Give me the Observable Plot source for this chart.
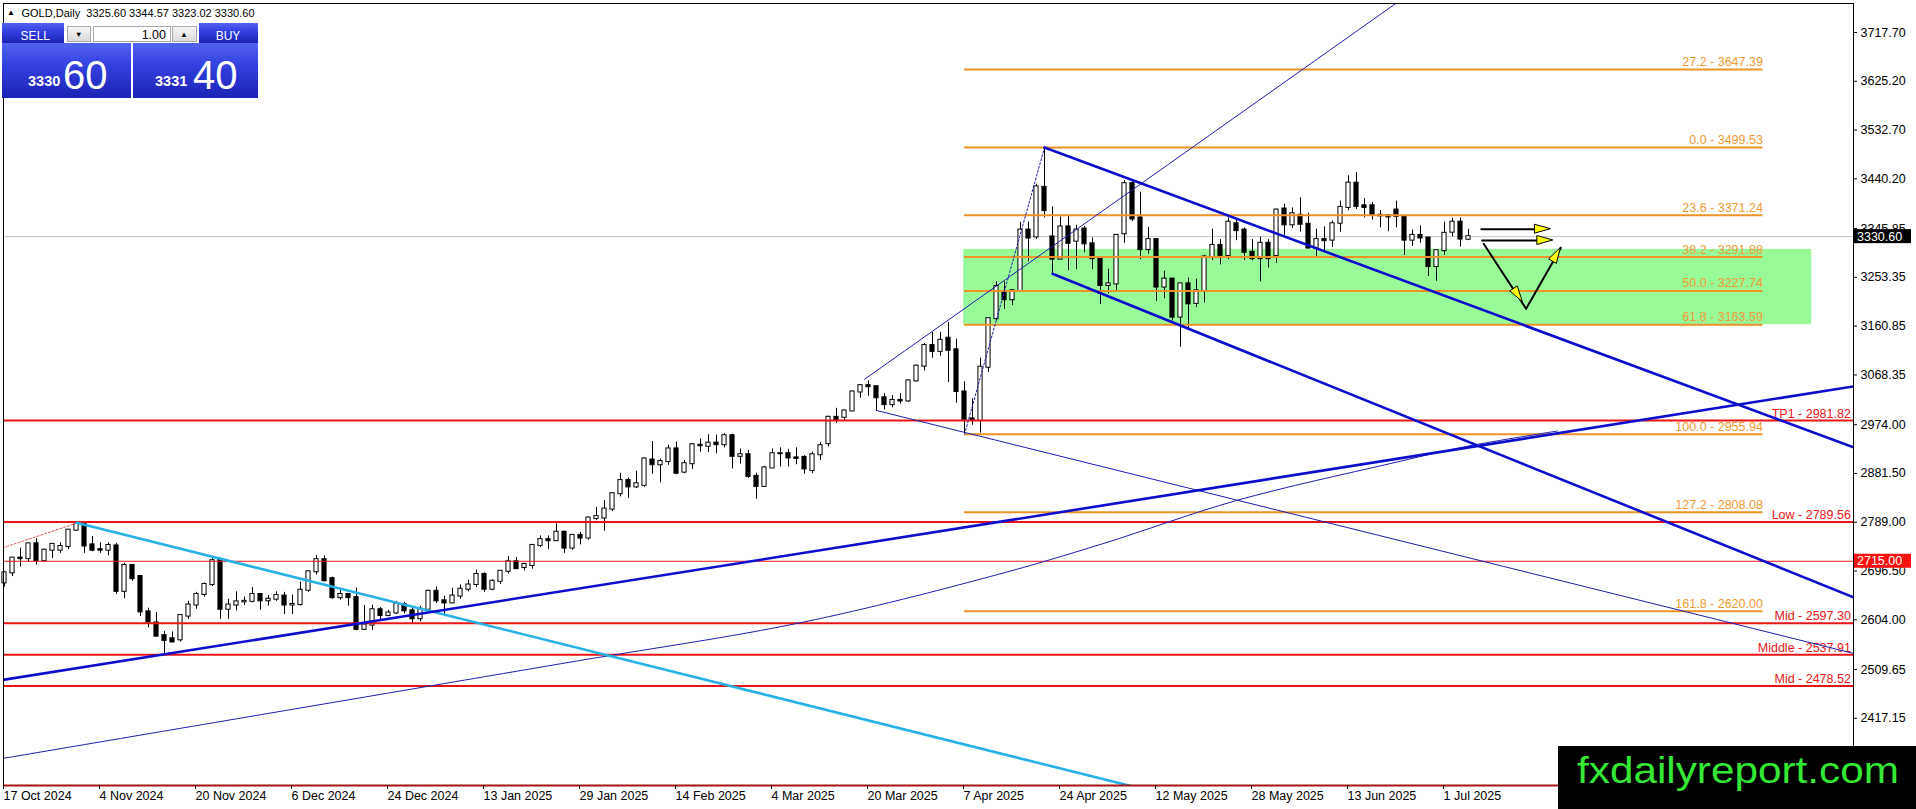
<!DOCTYPE html>
<html>
<head>
<meta charset="utf-8">
<title>GOLD, Daily</title>
<script src="https://cdn.jsdelivr.net/npm/d3@7"></script>
<script src="https://cdn.jsdelivr.net/npm/@observablehq/plot@0.6"></script>
<style>
  html, body { margin: 0; padding: 0; background: #fff; }
  #wrap { position: relative; width: 1916px; height: 809px; overflow: hidden; font-family: "Liberation Sans", Arial, sans-serif; }
  #wrap svg { display: block; }
  .ov { position: absolute; white-space: nowrap; line-height: 1; }
  .box { position: absolute; box-sizing: border-box; }
  .blue { background: linear-gradient(to bottom, #5263f2 0%, #3341e0 40%, #1c22b4 100%); }
  .btn { background: linear-gradient(#f6f6f6, #dadada); border: 1px solid #a8a8a8; }
</style>
</head>
<body>
<div id="wrap"></div>
<script>
// ---------------- data ----------------
const symbolTitle = "GOLD,Daily";
const lastOHLC = [3325.60, 3344.57, 3323.02, 3330.60];
const lots = "1.00";
const sellBig = "3330", sellSmall = "60", buyBig = "3331", buySmall = "40";

// x-axis tick positions (bar index) and labels
const tickBars = [0, 12, 24, 36, 48, 60, 72, 84, 96, 108, 120, 132, 144, 156, 168, 180];
const tickLabels = ["17 Oct 2024", "4 Nov 2024", "20 Nov 2024", "6 Dec 2024", "24 Dec 2024", "13 Jan 2025",
  "29 Jan 2025", "14 Feb 2025", "4 Mar 2025", "20 Mar 2025", "7 Apr 2025", "24 Apr 2025",
  "12 May 2025", "28 May 2025", "13 Jun 2025", "1 Jul 2025"];
// price-axis ticks
const yTicks = [3717.70, 3625.20, 3532.70, 3440.20, 3345.85, 3253.35, 3160.85, 3068.35, 2974.00,
  2881.50, 2789.00, 2696.50, 2604.00, 2509.65, 2417.15];

// daily candles, 17 Oct 2024 .. 4 Jul 2025 (bar index = position)
const open = [
2674,2693,2721,2720,2748,2716,2736,2736,2743,2774,
2788,2746,2737,2736,2744,2658,2707,2686,2619,2598,
2574,2568,2566,2611,2632,2652,2671,2718,2624,2632,
2638,2639,2652,2640,2643,2649,2632,2633,2660,2695,
2718,2682,2646,2652,2646,2586,2594,2623,2612,2617,
2633,2621,2606,2624,2658,2640,2636,2649,2662,2671,
2690,2662,2677,2696,2714,2703,2707,2745,2756,2754,
2770,2740,2764,2759,2796,2797,2814,2843,2868,2856,
2859,2907,2898,2904,2928,2884,2900,2935,2933,2939,
2936,2953,2914,2917,2876,2857,2892,2919,2919,2911,
2912,2887,2917,2938,2988,2988,3000,3036,3048,3046,
3025,3012,3020,3019,3057,3085,3124,3113,3138,3116,
3036,2985,2982,3083,3175,3226,3211,3228,3343,3330,
3424,3330,3288,3349,3322,3345,3317,3291,3238,3241,
3336,3431,3366,3306,3325,3235,3250,3178,3241,3204,
3228,3292,3314,3295,3355,3343,3301,3289,3318,3295,
3383,3353,3371,3354,3309,3325,3324,3356,3386,3432,
3389,3389,3371,3370,3381,3369,3324,3333,3328,3274,
3304,3339,3358,3325.60];
const high = [
2696,2722,2740,2749,2758,2738,2747,2750,2774,2790,
2790,2762,2750,2750,2749,2711,2709,2686,2626,2618,
2582,2581,2614,2639,2656,2674,2721,2721,2643,2657,
2647,2665,2652,2650,2657,2656,2651,2675,2697,2726,
2725,2685,2663,2653,2664,2631,2632,2627,2622,2639,
2637,2626,2630,2660,2666,2649,2664,2670,2679,2698,
2693,2680,2697,2724,2722,2711,2746,2763,2763,2786,
2772,2765,2770,2799,2817,2830,2845,2882,2873,2886,
2911,2942,2909,2935,2941,2906,2938,2947,2955,2954,
2957,2956,2928,2925,2882,2895,2928,2930,2927,2930,
2915,2922,2940,2990,3005,3002,3038,3050,3057,3047,
3033,3029,3033,3059,3087,3128,3149,3149,3168,3136,
3055,3023,3100,3175,3245,3245,3230,3358,3358,3430,
3499.53,3387,3368,3369,3352,3350,3328,3292,3269,3334,
3437,3435,3415,3348,3325,3265,3252,3241,3252,3250,
3295,3345,3325,3366,3365,3347,3325,3330,3325,3383,
3392,3385,3404,3375,3345,3349,3360,3398,3446,3452,
3403,3395,3380,3372,3398,3370,3343,3351,3329,3305,
3358,3365,3366,3344.57];
const low = [
2666,2686,2704,2713,2708,2713,2720,2730,2737,2772,
2730,2733,2730,2725,2652,2644,2677,2610,2589,2572,
2537,2560,2562,2605,2624,2647,2667,2605,2605,2621,
2631,2636,2622,2630,2639,2614,2614,2630,2656,2689,
2676,2643,2641,2630,2583,2584,2584,2603,2610,2614,
2615,2597,2600,2624,2635,2614,2635,2643,2657,2665,
2656,2659,2671,2691,2700,2697,2700,2741,2737,2753,
2730,2736,2746,2755,2792,2772,2809,2837,2834,2853,
2855,2880,2864,2897,2879,2881,2889,2922,2921,2919,
2930,2890,2899,2872,2833,2856,2891,2894,2894,2898,
2880,2881,2906,2932,2976,2982,2999,3024,3028,2999,
3002,3006,3013,3016,3055,3076,3100,3104,3054,3015,
2955.94,2973,2958,3073,3171,3193,3200,3228,3283,3325,
3366,3260,3287,3266,3268,3300,3268,3202,3222,3226,
3318,3359,3287,3297,3208,3213,3171,3121,3154,3196,
3205,3285,3277,3287,3323,3285,3285,3245,3271,3280,
3333,3346,3339,3307,3293,3300,3310,3339,3380,3382,
3366,3362,3347,3340,3347,3295,3312,3318,3255,3246,
3295,3330,3311,3323.02];
const close = [
2693,2721,2720,2748,2716,2736,2747,2743,2774,2788,
2744,2736,2736,2745,2658,2707,2682,2619,2600,2573,
2565,2562,2612,2632,2652,2671,2716,2624,2632,2638,
2639,2652,2640,2643,2650,2632,2633,2660,2695,2718,
2678,2646,2652,2646,2586,2594,2623,2612,2617,2634,
2621,2606,2624,2658,2640,2636,2649,2662,2670,2690,
2662,2677,2696,2714,2701,2709,2745,2756,2754,2770,
2740,2764,2759,2797,2800,2814,2843,2868,2856,2862,
2909,2898,2904,2928,2882,2900,2936,2934,2939,2936,
2953,2914,2917,2876,2857,2892,2919,2919,2911,2910,
2890,2917,2934,2988,2984,3000,3036,3048,3046,3025,
3012,3020,3019,3057,3085,3124,3113,3134,3115,3037,
2984,2982,3083,3175,3236,3211,3228,3343,3328,3425,
3380,3288,3349,3318,3343,3317,3289,3238,3241,3333,
3431,3364,3306,3325,3235,3250,3178,3241,3203,3228,
3292,3314,3295,3358,3342,3301,3289,3318,3289,3381,
3353,3374,3354,3309,3325,3323,3355,3386,3432,3388,
3386,3371,3370,3368,3369,3324,3333,3328,3274,3304,
3337,3358,3326,3330.60];

// horizontal levels
const redNames = ["TP1", "Low", "Mid", "Middle", "Mid"];
const redPrices = [2981.82, 2789.56, 2597.30, 2537.91, 2478.52];
const alertPrice = 2715.00;
const bidPrice = 3330.60;
const fibLevels = [27.2, 0.0, 23.6, 38.2, 50.0, 61.8, 100.0, 127.2, 161.8];
const fibPrices = [3647.39, 3499.53, 3371.24, 3291.88, 3227.74, 3163.59, 2955.94, 2808.08, 2620.00];
const fibFromBar = 120, fibToBar = 219.8, redLabelBar = 230.8;
const zoneBars = [119.9, 225.9];
const zonePrices = [3163.59, 3306.5];

// trend lines as [bar index, price] anchor points
const supportLine = [[-0.25, 2489.9], [231.5, 3047.5]];
const channelUpper = [[130, 3499.53], [231.5, 2928.9]];
const channelLower = [[131, 3260.1], [231.5, 2644.2]];
const cyanLine = [[9, 2788], [141, 2288]];
const thinRising = [[107.5, 3060], [178, 3816.6]];
const thinFalling = [[109, 3000.9], [231.5, 2538.8]];
const thinArc = [[-0.25, 2341.0], [69.5, 2520.6], [99.8, 2599.4], [123.7, 2688.0], [137.25, 2748.1],
  [154, 2830.2], [173.1, 2899.8], [182.7, 2932.6], [194.1, 2962.0]];
const fibTrend = [[120, 2955.94], [130, 3499.53]];
const oldFibTrend = [[-0.2, 2740.5], [9, 2787.2]];
// arrows: shafts and heads [tip, tail]
const arrowShafts = [
  [[184.6, 3344.7], [192.2, 3344.7]],
  [[184.7, 3323.3], [192.6, 3323.3]],
  [[184.9, 3317.0], [190.2, 3193.7], [194.55, 3309.4]]
];
const arrowHeads = [
  [[193.3, 3344.7], [184.6, 3344.7]],
  [[193.6, 3323.3], [184.7, 3323.3]],
  [[189.8, 3206.3], [184.9, 3317.0]],
  [[194.55, 3309.4], [190.2, 3193.7]]
];

// ---------------- styles ----------------
const RED = "#ea1414", ORANGE = "#ec9226", ORANGE_TXT = "#ef9a33";
const BLUE_THICK = "#0d0dcc", BLUE_THIN = "#1e1ea8", CYAN = "#27b1e6";

// ---------------- build ----------------
const bars = open.map((o, i) => ({i, o, h: high[i], l: low[i], c: close[i]}));
const reds = redPrices.map((p, k) => ({name: redNames[k], price: p}));
const fibs = fibPrices.map((p, k) => ({level: fibLevels[k], price: p}));
const zone = [{x1: zoneBars[0], x2: zoneBars[1], y1: zonePrices[0], y2: zonePrices[1]}];
const yDomain = [2289.77, 3772.7];

const trendDefs = [
  {pts: oldFibTrend, stroke: "#e05050", w: 1, dash: "2,2"},
  {pts: fibTrend, stroke: BLUE_THIN, w: 1, dash: "2,2"},
  {pts: thinArc, stroke: BLUE_THIN, w: 1, curve: "catmull-rom"},
  {pts: thinRising, stroke: BLUE_THIN, w: 1},
  {pts: thinFalling, stroke: BLUE_THIN, w: 1},
  {pts: cyanLine, stroke: CYAN, w: 2.6},
  {pts: supportLine, stroke: BLUE_THICK, w: 2.6},
  {pts: channelUpper, stroke: BLUE_THICK, w: 2.6},
  {pts: channelLower, stroke: BLUE_THICK, w: 2.6}
];

const plot = Plot.plot({
  width: 1916,
  height: 809,
  marginLeft: 3,
  marginRight: 63,
  marginTop: 3,
  marginBottom: 24,
  x: {domain: [-0.125, 231.125]},
  y: {domain: yDomain},
  color: {type: "identity"},
  style: {fontFamily: "'Liberation Sans', Arial, sans-serif", fontSize: "12.5px", background: "#fff", color: "#000", overflow: "visible"},
  marks: [
    Plot.rect(zone, {x1: "x1", x2: "x2", y1: "y1", y2: "y2", fill: "#98fb98"}),
    Plot.ruleY([bidPrice], {stroke: "#c4c4c4", strokeWidth: 1}),
    Plot.ruleX(bars, {x: "i", y1: "l", y2: "h", stroke: "#000", strokeWidth: 1}),
    Plot.rect(bars, {
      x1: d => d.i - 0.26, x2: d => d.i + 0.26, y1: "o", y2: "c",
      fill: d => (d.c >= d.o ? "#ffffff" : "#000000"), stroke: "#000", strokeWidth: 1,
      insetTop: -0.5, insetBottom: -0.5
    }),
    Plot.ruleY(fibs, {y: "price", x1: () => fibFromBar, x2: () => fibToBar, stroke: ORANGE, strokeWidth: 2}),
    Plot.ruleY(reds, {y: "price", stroke: RED, strokeWidth: 2}),
    Plot.ruleY([alertPrice], {stroke: RED, strokeWidth: 1}),
    Plot.text(fibs, {x: () => fibToBar, y: "price", text: d => `${d.level.toFixed(1)} - ${d.price.toFixed(2)}`,
      textAnchor: "end", dy: -7.5, fill: ORANGE_TXT, fontSize: 12.5}),
    Plot.text(reds, {x: () => redLabelBar, y: "price", text: d => `${d.name} - ${d.price.toFixed(2)}`,
      textAnchor: "end", dy: -7, fill: RED, fontSize: 12.5}),
    ...trendDefs.map(t => Plot.line(t.pts, {
      x: d => d[0], y: d => d[1], stroke: t.stroke, strokeWidth: t.w,
      strokeDasharray: t.dash, curve: t.curve || "linear", clip: true
    })),
    ...arrowShafts.map(s => Plot.line(s, {x: d => d[0], y: d => d[1], stroke: "#000", strokeWidth: 2, clip: true})),
    Plot.frame({stroke: "#000", strokeWidth: 1}),
    Plot.ruleY([yDomain[0]], {stroke: "#a31414", strokeWidth: 2}),
    Plot.axisY({anchor: "right", ticks: yTicks, tickFormat: d => d.toFixed(2), tickSize: 3, tickPadding: 4, label: null}),
    Plot.axisX({anchor: "bottom", ticks: tickBars, tickFormat: b => tickLabels[tickBars.indexOf(b)],
      tickSize: 4, tickPadding: 2, textAnchor: "start", dx: -1, label: null})
  ]
});

const wrap = document.getElementById("wrap");
wrap.appendChild(plot);

// extras drawn through the plot's own scales
const sx = plot.scale("x"), sy = plot.scale("y");
const X = v => sx.apply(v), Y = v => sy.apply(v);
const g = d3.select(plot).append("g");

function head(tip, tail, len = 16, half = 4.5) {
  const t = [X(tip[0]), Y(tip[1])], f = [X(tail[0]), Y(tail[1])];
  const dx = t[0] - f[0], dy = t[1] - f[1], L = Math.hypot(dx, dy);
  const ux = dx / L, uy = dy / L;
  const bx = t[0] - ux * len, by = t[1] - uy * len;
  const pts = [t, [bx - uy * half, by + ux * half], [bx + uy * half, by - ux * half]];
  g.append("polygon").attr("points", pts.map(p => p.join(",")).join(" "))
    .attr("fill", "#ffff00").attr("stroke", "#000").attr("stroke-width", 1);
}
arrowHeads.forEach(([tip, tail]) => head(tip, tail));

function priceBox(price, bg) {
  const x0 = sx.range[1];
  const y = Y(price);
  g.append("rect").attr("x", x0 + 1).attr("y", y - 7).attr("width", 57).attr("height", 14).attr("fill", bg);
  g.append("text").attr("x", x0 + 4).attr("y", y).attr("dy", "0.35em").attr("fill", "#fff")
    .attr("text-anchor", "start").attr("font-size", 12.5).text(price.toFixed(2));
}
priceBox(bidPrice, "#000");
priceBox(alertPrice, "#ff1010");

// ---------------- HTML overlays ----------------
function box(left, top, w, h, cls, extra = {}) {
  const d = document.createElement("div");
  d.className = "box " + cls;
  Object.assign(d.style, {left: left + "px", top: top + "px", width: w + "px", height: h + "px"}, extra);
  wrap.appendChild(d);
  return d;
}
function txt(s, left, baseline, size, opts = {}, align = "left") {
  const d = document.createElement("div");
  d.className = "ov";
  d.textContent = s;
  d.style.left = left + "px";
  d.style.top = (baseline - 0.846 * size) + "px";
  d.style.fontSize = size + "px";
  if (align === "center") d.style.transform = "translateX(-50%)";
  if (align === "right") d.style.transform = "translateX(-100%)";
  Object.assign(d.style, opts);
  wrap.appendChild(d);
  return d;
}

// title line
txt("\u25B2", 7, 16, 8, {color: "#000"});
txt(symbolTitle + "\u00A0\u00A0" + lastOHLC.map(v => v.toFixed(2)).join(" "), 21.5, 17.3, 11, {color: "#000"});

// one-click trading panel
box(2, 23, 62, 19.5, "blue");
txt("SELL", 35.3, 40.2, 12, {color: "#fff"}, "center");
box(66.5, 26, 24.5, 16, "btn");
txt("\u25BC", 78.7, 37.5, 7.5, {color: "#000"}, "center");
box(92.5, 26, 78.5, 16, "", {background: "#fff", border: "1px solid #a8a8a8"});
txt(lots, 166, 39.8, 12.5, {color: "#000"}, "right");
box(171.5, 26, 25, 16, "btn");
txt("\u25B2", 184, 37.5, 7.5, {color: "#000"}, "center");
box(199, 23, 59, 19.5, "blue");
txt("BUY", 228, 40.2, 12, {color: "#fff"}, "center");

box(2, 43, 128.7, 55, "blue");
box(133.3, 43, 124.7, 55, "blue");
txt(sellBig, 28, 86, 14.5, {color: "#fff", fontWeight: "bold"});
txt(sellSmall, 63, 89, 40, {color: "#fff"});
txt(buyBig, 155, 86, 14.5, {color: "#fff", fontWeight: "bold"});
txt(buySmall, 193, 89, 40, {color: "#fff"});

// watermark logo
box(1558, 746, 358, 63, "", {background: "#000"});
const logo = txt("fxdailyreport.com", 1577, 783, 37, {color: "#35e835", transformOrigin: "0 0"});
const lw = logo.getBoundingClientRect().width;
if (lw > 0) logo.style.transform = `scaleX(${(322 / lw).toFixed(4)})`;
</script>
</body>
</html>
